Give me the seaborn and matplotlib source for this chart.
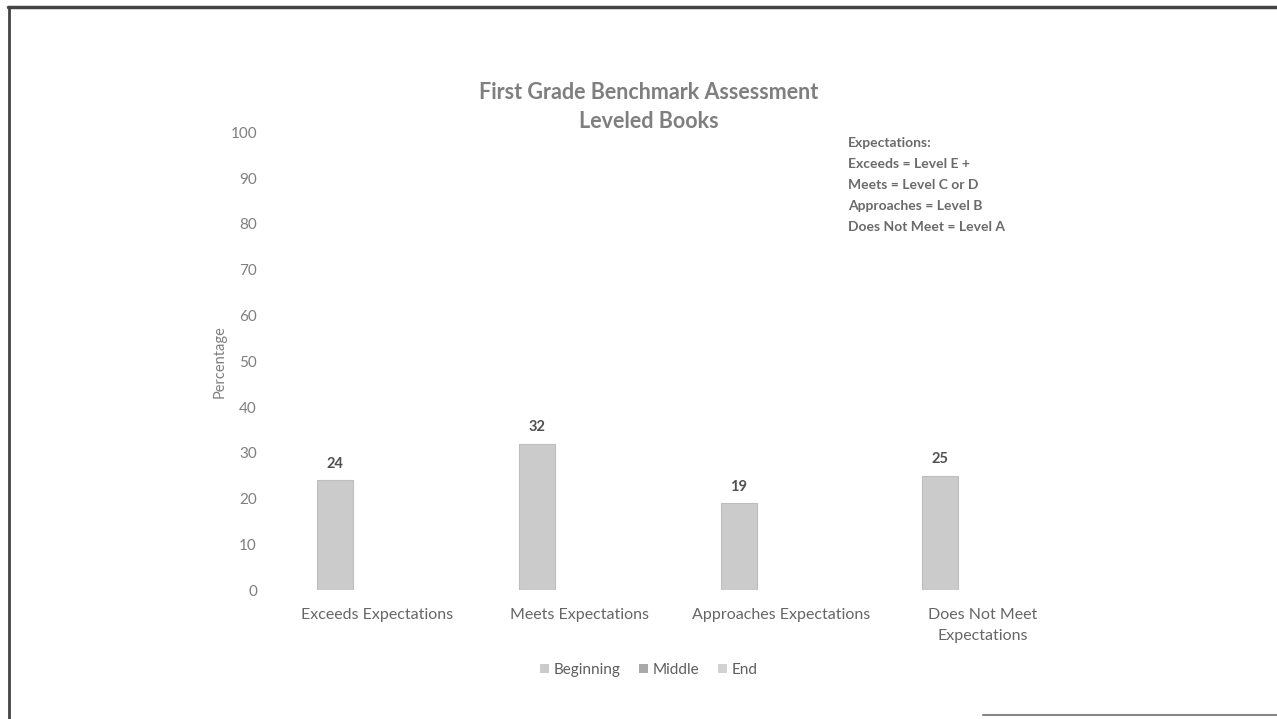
import numpy as np
import pandas as pd
import matplotlib
matplotlib.use("Agg")
import matplotlib.pyplot as plt
import seaborn as sns
from matplotlib.patches import Patch
from matplotlib.lines import Line2D

categories = ["Exceeds Expectations", "Meets Expectations", "Approaches Expectations", "Does Not Meet\nExpectations"]
periods = ["Beginning", "Middle", "End"]
beginning = [24, 32, 19, 25]
middle = [np.nan, np.nan, np.nan, np.nan]
end = [np.nan, np.nan, np.nan, np.nan]
yticks = [0, 10, 20, 30, 40, 50, 60, 70, 80, 90, 100]
title = "First Grade Benchmark Assessment\nLeveled Books"
note_lines = ["Expectations:", "Exceeds = Level E +", "Meets = Level C or D",
              "Approaches = Level B", "Does Not Meet = Level A"]

sns.set_theme(style="white")
plt.rcParams['font.family'] = ['Lato', 'DejaVu Sans']

df = pd.DataFrame({
    "Category": categories * 3,
    "Period": [p for p in periods for _ in categories],
    "Value": beginning + middle + end,
})

txt = "#7f7f7f"
palette = {"Beginning": "#cbcbcb", "Middle": "#a9a9a9", "End": "#d2d2d2"}

fig = plt.figure(figsize=(12.77, 7.19), dpi=100)
ax = fig.add_axes([0.2165, 0.179, 0.632, 0.637])
sns.barplot(data=df, x="Category", y="Value", hue="Period", hue_order=periods,
            order=categories, palette=palette, width=0.63, gap=0.15,
            errorbar=None, ax=ax, legend=False, edgecolor="#bdbdbd", linewidth=0.8)

ax.set_xlim(-0.5, 3.5)
ax.set_ylim(0, 100)
ax.set_yticks(yticks)
ax.set_yticklabels([str(t) for t in yticks], color=txt, fontsize=11)
ax.tick_params(axis='y', length=0, pad=14)
ax.tick_params(axis='x', length=0, pad=13, labelsize=11.5, labelcolor="#666666")
for lab in ax.get_xticklabels():
    lab.set_linespacing(1.6)
for s in ax.spines.values():
    s.set_visible(False)
ax.set_xlabel("")
ax.set_ylabel("Percentage", color=txt, fontsize=10.5, labelpad=3)

# data labels on Beginning bars
cont = ax.containers[0]
ax.bar_label(cont, labels=[f"{v:g}" for v in beginning], padding=7,
             fontsize=10.5, fontweight="bold", color="#505050")

fig.text(0.508, 1 - 107 / 719, title, ha="center", va="center", fontsize=15.5,
         color=txt, fontweight="bold", linespacing=1.5)

for i, line in enumerate(note_lines):
    fig.text(0.664, 1 - (143 + 21 * i) / 719, line, ha="left", va="center",
             fontsize=10, color="#6a6a6a", fontweight="bold")

handles = [Patch(facecolor=palette[p], edgecolor="none") for p in periods]
fig.legend(handles, periods, loc="center", bbox_to_anchor=(0.508, 1 - 670 / 719),
           ncol=3, frameon=False, fontsize=11, labelcolor="#5e5e5e",
           handlelength=0.6, handleheight=0.6, handletextpad=0.3, columnspacing=1.2)

# outer frame lines
fig.add_artist(Line2D([0.006, 1.0], [0.99, 0.99], color="#444444", lw=2.5, transform=fig.transFigure))
fig.add_artist(Line2D([0.007, 0.007], [0.0, 0.99], color="#444444", lw=2, transform=fig.transFigure))
fig.add_artist(Line2D([0.77, 1.0], [0.006, 0.006], color="#888888", lw=1.5, transform=fig.transFigure))

fig.savefig("out.png", dpi=100, facecolor="white")
